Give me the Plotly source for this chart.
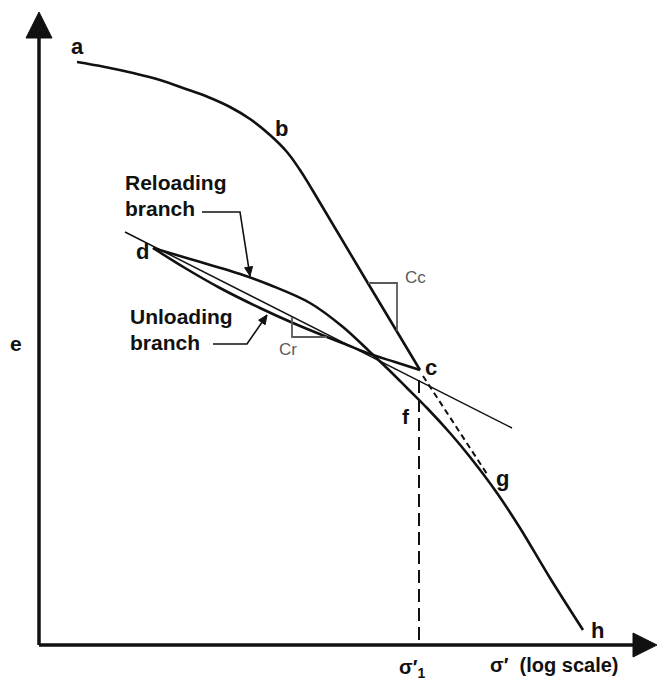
import numpy as np
import plotly.graph_objects as go

# Coordinates: x = log sigma' (arbitrary units from the axis origin), y = void ratio e
# Virgin compression curve a -> b -> c
virgin_x = [38, 66, 94, 121, 144, 169, 191, 211, 231, 248, 261, 274, 327, 381]
virgin_e = [583, 578, 572, 565, 557, 548, 538, 526, 510, 493, 475, 454, 365, 275]

# Unloading branch c -> d
unload_x = [381, 356, 331, 306, 288, 254, 221, 181, 146, 114]
unload_e = [275, 283, 291, 301, 308, 322, 337, 357, 377, 397]

# Reloading branch d -> f -> g -> h
reload_x = [114, 151, 204, 231, 271, 304, 331, 351, 368, 388, 411, 431, 458, 481, 511, 544]
reload_e = [397, 386, 370, 360, 342, 318, 293, 274, 257, 237, 212, 188, 152, 117, 67, 15]

# Straight swelling line (slope Cr)
cr_line_x = [86, 473]
cr_line_e = [413, 217]

# Extension of the virgin line c -> g
ext_x = [384, 448]
ext_e = [269, 171]

# sigma'_1 marker
sigma1_x = 380
sigma1_top = 265

# Slope triangles
cc_tri_x = [329, 358, 358]
cc_tri_e = [362, 362, 314]
cr_tri_x = [253, 253, 288]
cr_tri_e = [328, 308, 308]

# Leader lines for the branch labels
lead_rel_x = [163, 201, 211]
lead_rel_e = [433, 433, 369]
lead_unl_x = [174, 208, 228]
lead_unl_e = [301, 301, 330]

# Axis extents
x_axis_end = 618
y_axis_end = 633

INK = "#111111"
GREY = "#5a5a5a"
FONT = "Liberation Sans, Arial, Helvetica, sans-serif"

fig = go.Figure()


def line(x, y, width=2.6, color=INK, dash=None, shape="linear", smoothing=1.0):
    fig.add_trace(go.Scatter(
        x=x, y=y, mode="lines",
        line=dict(color=color, width=width, dash=dash, shape=shape, smoothing=smoothing),
        hoverinfo="skip", showlegend=False))


def arrowhead(x0, y0, x1, y1, length, half, color=INK):
    # filled triangle with its tip at (x1, y1), pointing along (x0,y0)->(x1,y1)
    d = np.array([x1 - x0, y1 - y0], dtype=float)
    d /= np.hypot(*d)
    n = np.array([-d[1], d[0]])
    tip = np.array([x1, y1], dtype=float)
    base = tip - d * length
    p1 = base + n * half
    p2 = base - n * half
    fig.add_trace(go.Scatter(
        x=[tip[0], p1[0], p2[0], tip[0]], y=[tip[1], p1[1], p2[1], tip[1]],
        mode="lines", fill="toself", fillcolor=color,
        line=dict(color=color, width=1), hoverinfo="skip", showlegend=False))


# axes with arrows
line([0, 0], [0, y_axis_end - 20], width=3.5)
arrowhead(0, 0, 0, y_axis_end, 26, 13)
line([0, x_axis_end - 20], [0, 0], width=3.5)
arrowhead(0, 0, x_axis_end, 0, 24, 12)

# curves
line(virgin_x, virgin_e, shape="spline", smoothing=1.2)
line(unload_x, unload_e, shape="spline")
line(reload_x, reload_e, shape="spline")
line(cr_line_x, cr_line_e, width=1.5)
line(ext_x, ext_e, width=2, dash="6px,4px")
line([sigma1_x, sigma1_x], [sigma1_top, 0], width=2, dash="13px,6px")

# slope triangles
line(cc_tri_x, cc_tri_e, width=1.8, color=GREY)
line(cr_tri_x, cr_tri_e, width=1.8, color=GREY)

# leaders
line(lead_rel_x, lead_rel_e, width=1.6)
arrowhead(lead_rel_x[-2], lead_rel_e[-2], lead_rel_x[-1], lead_rel_e[-1], 9, 4)
line(lead_unl_x, lead_unl_e, width=1.6)
arrowhead(lead_unl_x[-2], lead_unl_e[-2], lead_unl_x[-1], lead_unl_e[-1], 9, 4)

labels = [
    ("a", 38, 599, 22, INK, "center"),
    ("b", 242, 517, 22, INK, "center"),
    ("c", 392, 278, 22, INK, "center"),
    ("d", 103, 394, 22, INK, "center"),
    ("e", -23, 302, 21, INK, "center"),
    ("f", 367, 229, 21, INK, "center"),
    ("g", 463, 167, 22, INK, "center"),
    ("h", 558, 15, 22, INK, "center"),
    ("Reloading", 84, 463, 21, INK, "left"),
    ("branch", 84, 437, 21, INK, "left"),
    ("Unloading", 89, 329, 21, INK, "left"),
    ("branch", 89, 303, 21, INK, "left"),
    ("σ′<sub>1</sub>", 373, -23, 20, INK, "center"),
    ("σ′  (log scale)", 515, -20, 20, INK, "center"),
]
for text, x, y, size, color, anchor in labels:
    fig.add_annotation(x=x, y=y, xref="x", yref="y", text="<b>" + text + "</b>",
                       showarrow=False, xanchor=anchor, yanchor="middle",
                       font=dict(family=FONT, size=size, color=color))

for text, x, y in [("Cc", 376, 368), ("Cr", 249, 296)]:
    fig.add_annotation(x=x, y=y, xref="x", yref="y", text=text, showarrow=False,
                       xanchor="center", yanchor="middle",
                       font=dict(family=FONT, size=17, color=GREY))

fig.update_layout(
    width=658, height=680, autosize=False,
    margin=dict(l=0, r=0, t=0, b=0),
    paper_bgcolor="white", plot_bgcolor="white",
    xaxis=dict(range=[-39, 619], visible=False, fixedrange=True),
    yaxis=dict(range=[-35, 645], visible=False, fixedrange=True),
)

fig.write_html("out.html")
